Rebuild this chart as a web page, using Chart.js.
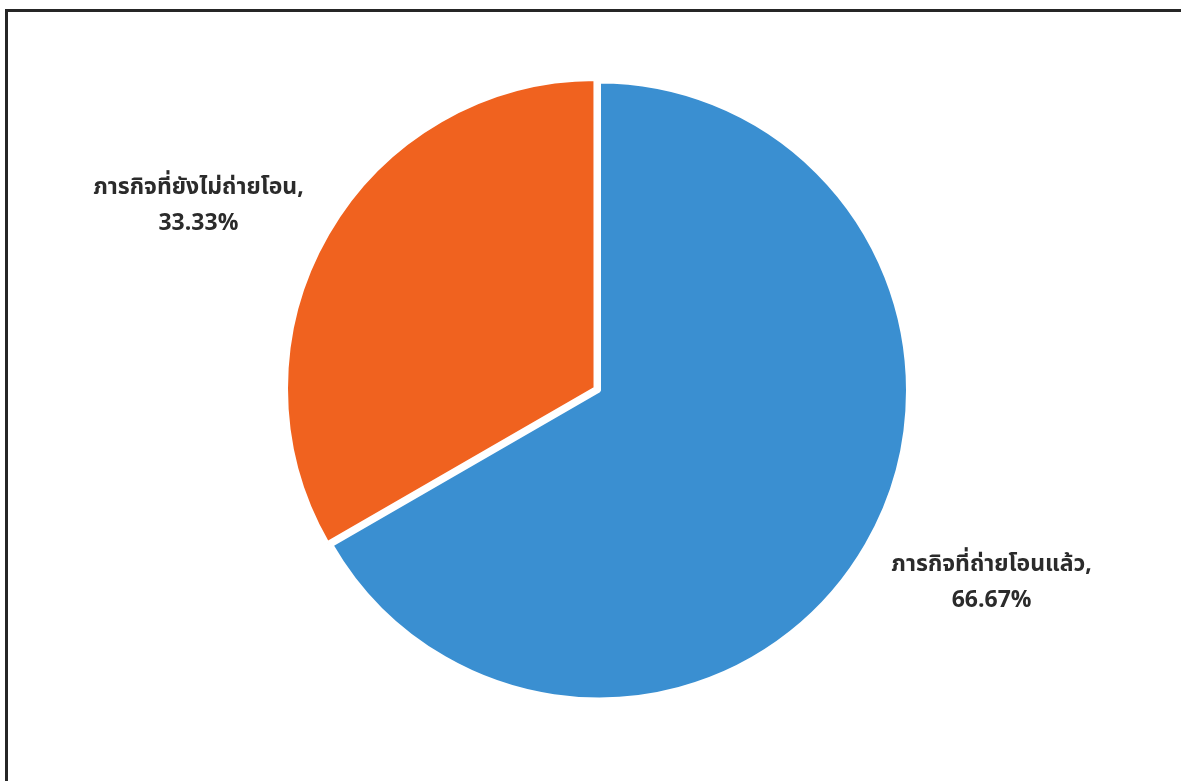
<!DOCTYPE html>
<html lang="th">
<head>
    <meta charset="UTF-8">
    <title>ภารกิจที่ถ่ายโอน</title>
    <script src="https://cdn.jsdelivr.net/npm/chart.js@4.4.0/dist/chart.umd.min.js"></script>
    <style>
        html, body { margin: 0; padding: 0; background: #fff; overflow: hidden; }
        .frame {
            position: absolute; left: 5px; top: 9px;
            width: 1200px; height: 800px;
            border: 3px solid #262626;
        }
        .wrap { position: absolute; left: 0; top: 0; width: 1181px; height: 781px; }
    </style>
</head>
<body>
    <div class="frame"></div>
    <div class="wrap"><canvas id="myChart"></canvas></div>

<script>
// data
var categories = ['ภารกิจที่ถ่ายโอนแล้ว', 'ภารกิจที่ยังไม่ถ่ายโอน'];
var shares = [66.67, 33.33];
var sliceColors = ['#3A8FD1', '#F0621F'];
var sliceOffsets = [0, 16];

// where each label sits, relative to the slice edge at its mid angle
var labelShift = [[125, 36], [-133, -32]];

var fontFamily = '"Noto Sans Thai", "Noto Sans Thai UI", Tahoma, "Noto Sans", "DejaVu Sans", sans-serif';

// draws "name," / "xx.xx%" next to each slice
var sliceLabels = {
    id: 'sliceLabels',
    afterDatasetsDraw: function(chart) {
        var ctx = chart.ctx;
        var meta = chart.getDatasetMeta(0);
        ctx.save();
        ctx.fillStyle = '#2b2b2b';
        ctx.textAlign = 'center';
        ctx.textBaseline = 'alphabetic';
        meta.data.forEach(function(arc, i) {
            var p = arc.getProps(['x', 'y', 'startAngle', 'endAngle', 'outerRadius'], true);
            var mid = (p.startAngle + p.endAngle) / 2;
            var ex = p.x + Math.cos(mid) * p.outerRadius;
            var ey = p.y + Math.sin(mid) * p.outerRadius;
            var lx = ex + labelShift[i][0];
            var ly = ey + labelShift[i][1];
            ctx.font = 'bold 23px ' + fontFamily;
            ctx.fillText(categories[i] + ',', lx, ly - 10);
            ctx.fillText(shares[i].toFixed(2) + '%', lx, ly + 26);
        });
        ctx.restore();
    }
};

var ctx = document.getElementById('myChart').getContext('2d');
var myPieChart = new Chart(ctx, {
    type: 'pie',
    data: {
        labels: categories,
        datasets: [{
            data: shares,
            backgroundColor: sliceColors,
            borderColor: '#ffffff',
            borderWidth: 4,
            offset: sliceOffsets
        }]
    },
    options: {
        responsive: true,
        maintainAspectRatio: false,
        animation: false,
        radius: 309,
        layout: { padding: { left: 17, right: 0, top: 0, bottom: 0 } },
        plugins: {
            legend: { display: false },
            tooltip: { enabled: false }
        }
    },
    plugins: [sliceLabels]
});
</script>
</body>
</html>
